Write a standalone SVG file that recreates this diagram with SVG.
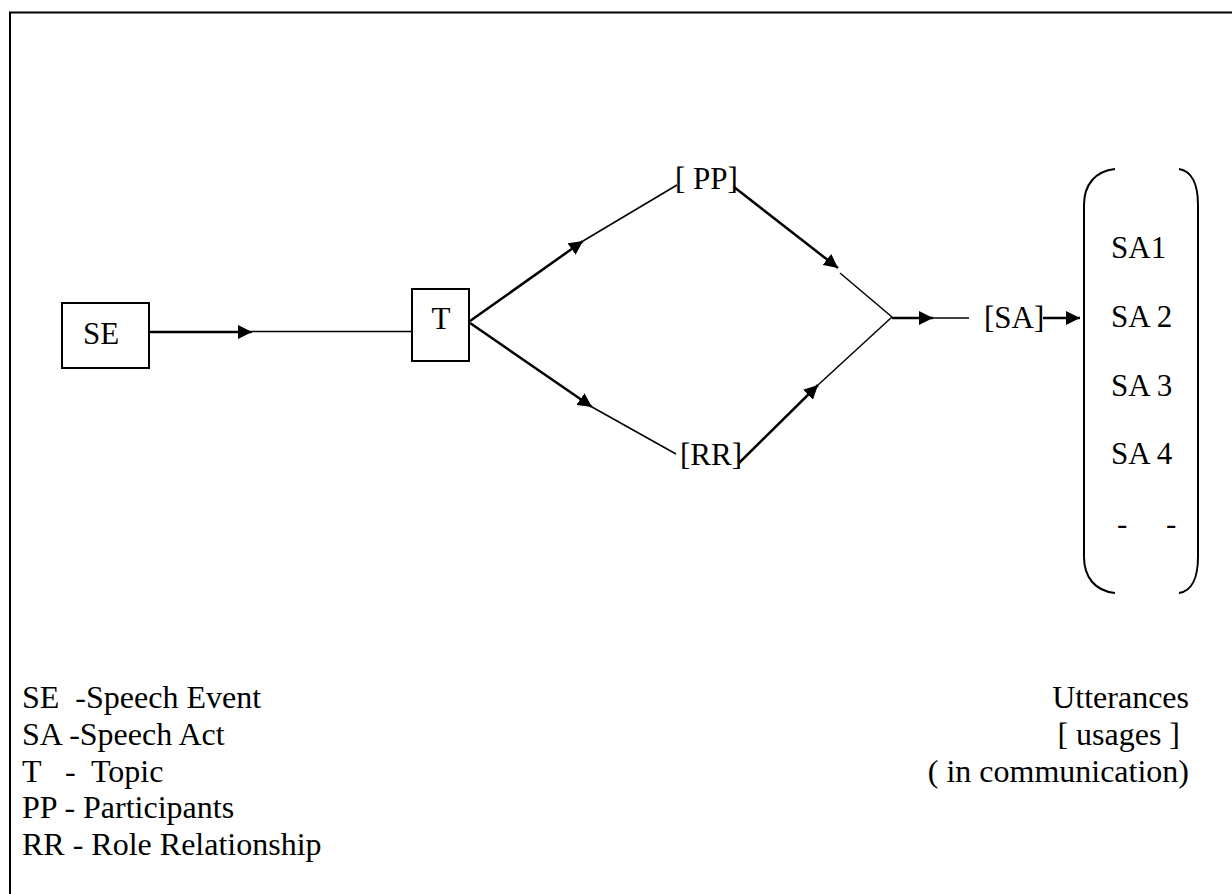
<svg xmlns="http://www.w3.org/2000/svg" width="1232" height="894" viewBox="0 0 1232 894">
<style>
text{font-family:"Liberation Serif","Times New Roman",serif;fill:#000}
.lbl{font-size:31px}
.leg{font-size:32px}
.box{fill:#fff;stroke:#000;stroke-width:2}
.thick{stroke:#000;stroke-width:2.5;fill:none}
.thin{stroke:#000;stroke-width:1.5;fill:none}
.paren{stroke:#000;stroke-width:2;fill:none}
</style>
<defs>
<marker id="ah" markerUnits="userSpaceOnUse" markerWidth="15" markerHeight="14" refX="14" refY="7" orient="auto">
<path d="M0,0 L14,7 L0,14 z" fill="#000"/>
</marker>
</defs>
<rect width="1232" height="894" fill="#fff"/>
<path d="M10,894 V12.5 H1232" stroke="#000" stroke-width="2" fill="none"/>
<g id="connectors">
<line class="thick" x1="149" y1="332" x2="252" y2="332" marker-end="url(#ah)"/>
<line class="thin" x1="252" y1="331.5" x2="412" y2="331.5"/>
<line class="thick" x1="470" y1="321" x2="583" y2="241" marker-end="url(#ah)"/>
<line class="thin" x1="583" y1="241" x2="677" y2="185"/>
<line class="thick" x1="734" y1="187" x2="838" y2="268" marker-end="url(#ah)"/>
<line class="thin" x1="840" y1="273" x2="892" y2="317"/>
<line class="thick" x1="470" y1="323" x2="592" y2="407" marker-end="url(#ah)"/>
<line class="thin" x1="592" y1="407" x2="676" y2="454"/>
<line class="thick" x1="739" y1="463" x2="818" y2="385" marker-end="url(#ah)"/>
<line class="thin" x1="818" y1="385" x2="892" y2="317"/>
<line class="thick" x1="892" y1="318" x2="933" y2="318" marker-end="url(#ah)"/>
<line class="thin" x1="933" y1="318" x2="969" y2="318"/>
<line class="thick" x1="1043" y1="318" x2="1080" y2="318" marker-end="url(#ah)"/>
</g>
<g id="SE">
<rect class="box" x="62" y="303" width="87" height="65"/>
<text class="lbl" x="83" y="344">SE</text>
</g>
<g id="T">
<rect class="box" x="412" y="289" width="57" height="72"/>
<text class="lbl" x="441" y="329" text-anchor="middle">T</text>
</g>
<g id="PP">
<text class="lbl" x="675" y="189">[ PP]</text>
</g>
<g id="RR">
<text class="lbl" x="680" y="465">[RR]</text>
</g>
<g id="SA">
<text class="lbl" x="984" y="328">[SA]</text>
</g>
<g id="utterances">
<path class="paren" d="M1115,169 C1095,171 1084,185 1084,205 L1084,557 C1084,577 1095,591 1115,593"/>
<path class="paren" d="M1179,169 C1192,171 1198,185 1198,205 L1198,557 C1198,577 1192,591 1179,593"/>
<text class="lbl" x="1111" y="258">SA1</text>
<text class="lbl" x="1111" y="327">SA 2</text>
<text class="lbl" x="1111" y="396">SA 3</text>
<text class="lbl" x="1111" y="464">SA 4</text>
<text class="lbl" x="1117" y="534" style="white-space:pre">-     -</text>
</g>
<g id="legend">
<text class="leg" x="22" y="708" style="white-space:pre">SE  -Speech Event</text>
<text class="leg" x="22" y="745">SA -Speech Act</text>
<text class="leg" x="22" y="782" style="white-space:pre">T   -  Topic</text>
<text class="leg" x="22" y="818">PP - Participants</text>
<text class="leg" x="22" y="855">RR - Role Relationship</text>
<text class="leg" x="1189" y="708" text-anchor="end">Utterances</text>
<text class="leg" x="1180" y="745" text-anchor="end">[ usages ]</text>
<text class="leg" x="1189" y="782" text-anchor="end">( in communication)</text>
</g>
</svg>
